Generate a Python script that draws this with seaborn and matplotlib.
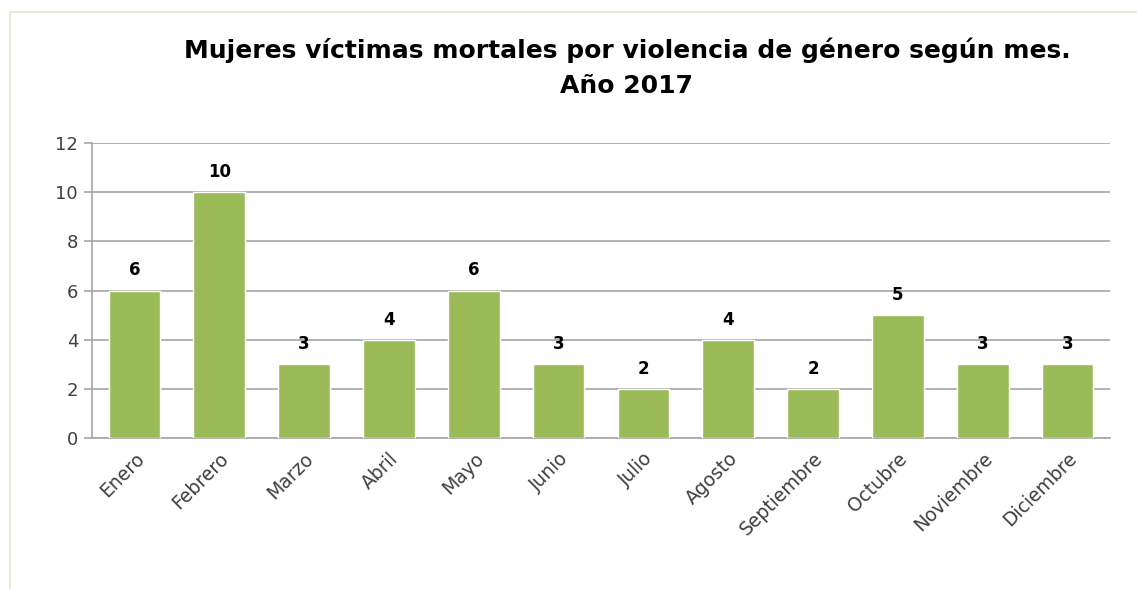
import numpy as np
import pandas as pd
import matplotlib
matplotlib.use('Agg')
import matplotlib.pyplot as plt
import seaborn as sns
from matplotlib.patches import Rectangle

# Datos
meses = ['Enero', 'Febrero', 'Marzo', 'Abril', 'Mayo', 'Junio', 'Julio',
         'Agosto', 'Septiembre', 'Octubre', 'Noviembre', 'Diciembre']
victimas = [6, 10, 3, 4, 6, 3, 2, 4, 2, 5, 3, 3]
yticks = [0, 2, 4, 6, 8, 10, 12]

df = pd.DataFrame({'mes': meses, 'victimas': victimas})

sns.set_style('white')
plt.rcParams['font.family'] = ['DejaVu Sans']

fig = plt.figure(figsize=(11.37, 5.89), dpi=100)
ax = fig.add_axes([92 / 1137, 1 - 438 / 589, (1110 - 92) / 1137, (438 - 143) / 589])

sns.barplot(data=df, x='mes', y='victimas', color='#9BBB59', width=0.61,
            saturation=1, ax=ax, zorder=3)

ax.set_ylim(0, 12)
ax.set_xlim(-0.5, len(meses) - 0.5)
ax.set_yticks(yticks)
ax.set_yticklabels([str(t) for t in yticks], fontsize=13, color='#404040')
ax.yaxis.grid(True, color='#A6A6A6', linewidth=1.2, zorder=0)
ax.set_axisbelow(True)

# ticks entre categorías
ax.set_xticks(np.arange(len(meses)))
ax.set_xticklabels(meses, rotation=45, ha='right', rotation_mode='anchor',
                   fontsize=13.5, color='#404040')
ax.tick_params(axis='x', length=0, pad=8)
ax.set_xticks(np.arange(-0.5, len(meses)), minor=True)
ax.tick_params(axis='x', which='minor', length=6, color='#A6A6A6', width=1.2)
ax.tick_params(axis='y', length=6, color='#A6A6A6', width=1.2, left=True, pad=4)

for s in ['top', 'right']:
    ax.spines[s].set_visible(False)
for s in ['left', 'bottom']:
    ax.spines[s].set_color('#A6A6A6')
    ax.spines[s].set_linewidth(1.2)

ax.set_xlabel('')
ax.set_ylabel('')

for i, v in enumerate(victimas):
    ax.annotate(str(v), (i, v), xytext=(0, 8), textcoords='offset points',
                ha='center', va='bottom', fontsize=12, fontweight='bold',
                color='black')

fig.text(627 / 1137, 1 - 68 / 589,
         'Mujeres víctimas mortales por violencia de género según mes.\nAño 2017',
         ha='center', va='center', fontsize=18, fontweight='bold',
         color='black', linespacing=1.6)

# marco del gráfico
fig.patches.append(Rectangle((10 / 1137, -0.05), 1.2, 1.05 - 12 / 589,
                             transform=fig.transFigure, fill=False,
                             edgecolor='#E6E6CC', linewidth=1.2))

fig.savefig('out.png', dpi=100)
